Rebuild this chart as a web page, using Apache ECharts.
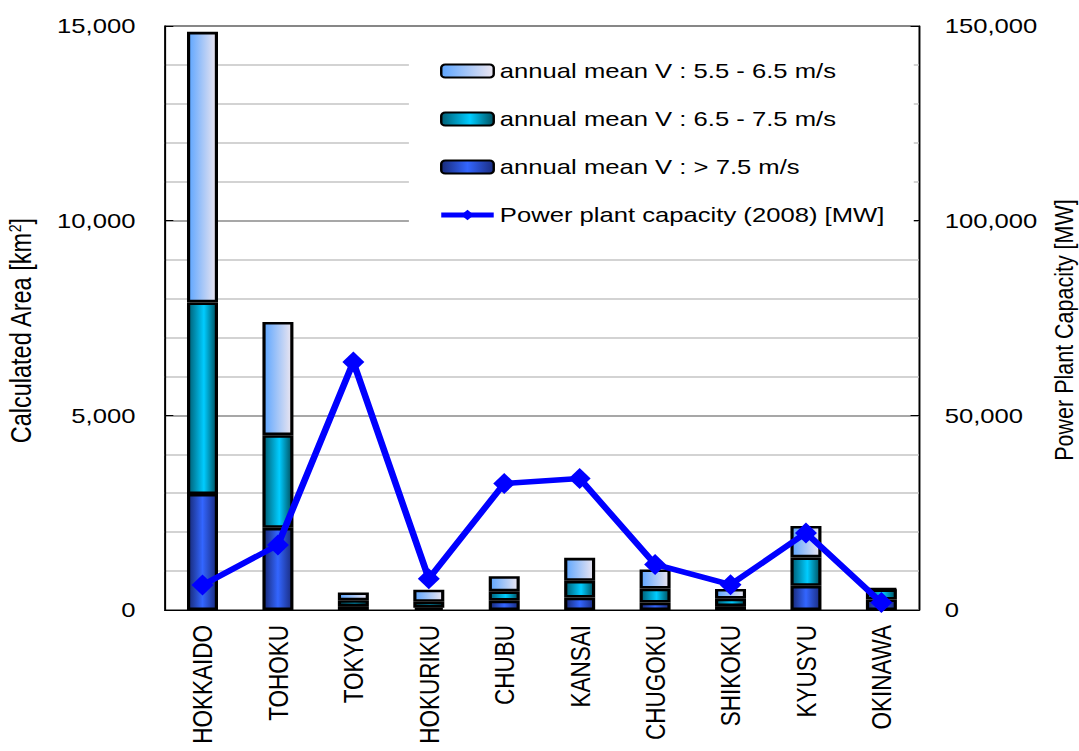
<!DOCTYPE html>
<html>
<head>
<meta charset="utf-8">
<script src="https://cdn.jsdelivr.net/npm/echarts@6/dist/echarts.min.js"></script>
<style>
  html, body { margin: 0; padding: 0; background: #fff; overflow: hidden; }
  /* the chart is laid out narrower and widened horizontally */
  #main { width: 884px; height: 751px; transform: scaleX(1.2206); transform-origin: 0 0; }
</style>
</head>
<body>
<div id="main"></div>
<script>
// Regions
const categories = ['HOKKAIDO', 'TOHOKU', 'TOKYO', 'HOKURIKU', 'CHUBU', 'KANSAI', 'CHUGOKU', 'SHIKOKU', 'KYUSYU', 'OKINAWA'];
// Calculated area [km2] per wind-speed class
const areaV55to65 = [6950, 2910, 200, 310, 390, 590, 490, 250, 810, 20];
const areaV65to75 = [4920, 2380, 150, 150, 240, 430, 360, 190, 730, 260];
const areaVover75 = [2980, 2110, 100, 60, 240, 320, 190, 100, 620, 270];
// Power plant capacity (2008) [MW]
const capacity2008 = [6400, 16700, 63700, 8000, 32500, 33800, 11700, 6500, 19800, 1900];

const seriesNames = [
  'annual mean V : 5.5 - 6.5 m/s',
  'annual mean V : 6.5 - 7.5 m/s',
  'annual mean V : > 7.5 m/s',
  'Power plant capacity (2008) [MW]'
];

const FONT = '"Liberation Sans", Arial, sans-serif';

function hGrad(stops) {
  return new echarts.graphic.LinearGradient(0, 0, 1, 0,
    stops.map(s => ({ offset: s[0], color: s[1] })));
}
const fillLight = hGrad([[0, '#5ea6ff'], [1, '#ece6f0']]);
const fillMid = hGrad([[0, '#005f75'], [0.55, '#00ccff'], [1, '#00505f']]);
const fillDark = hGrad([[0, '#182a78'], [0.5, '#3366ff'], [1, '#1a2c80']]);

const fmt = v => v.toLocaleString('en-US');

const barCommon = {
  type: 'bar',
  stack: 'area',
  barWidth: 25.4,
  yAxisIndex: 0
};

const chart = echarts.init(document.getElementById('main'), null, { renderer: 'svg' });
chart.setOption({
  animation: false,
  backgroundColor: '#fff',
  textStyle: { fontFamily: FONT, color: '#000' },
  grid: {
    left: 135, right: 131, top: 26, bottom: 141,
    outerBoundsMode: 'none',
    containLabel: false,
    show: true, borderColor: '#000', borderWidth: 1, backgroundColor: 'transparent'
  },
  legend: {
    orient: 'vertical',
    left: 335, top: 44,
    padding: [15, 24, 12, 24],
    backgroundColor: '#fff',
    itemWidth: 43, itemHeight: 13, itemGap: 24,
    lineStyle: { width: 5 },
    textStyle: { fontFamily: FONT, fontSize: 21, color: '#000', lineHeight: 24 },
    data: seriesNames
  },
  xAxis: {
    type: 'category',
    data: categories,
    axisLine: { lineStyle: { color: '#000', width: 1.2 } },
    axisTick: { inside: true, length: 7, lineStyle: { color: '#808080', width: 1 } },
    axisLabel: { rotate: 90, fontSize: 22.5, color: '#000', fontFamily: FONT, margin: 15 },
    splitLine: { show: false }
  },
  yAxis: [
    {
      type: 'value', min: 0, max: 15000, interval: 5000, position: 'left',
      name: 'Calculated Area [km{sup|2}]',
      nameLocation: 'middle', nameRotate: 90, nameGap: 106,
      nameTextStyle: {
        fontFamily: FONT, fontSize: 23.5, color: '#000', padding: [0, 26, 0, 0],
        rich: { sup: { fontFamily: FONT, fontSize: 14, verticalAlign: 'top', color: '#000' } }
      },
      axisLine: { show: true, lineStyle: { color: '#000', width: 1.2 } },
      axisTick: { show: true, inside: true, length: 7, lineStyle: { color: '#000' } },
      axisLabel: { formatter: fmt, fontSize: 21, color: '#000', fontFamily: FONT, margin: 24 },
      splitLine: { show: true, lineStyle: { color: '#8a8a8a', width: 1.5 } },
      minorTick: { show: false, splitNumber: 5 },
      minorSplitLine: { show: true, lineStyle: { color: '#c4c4c4', width: 1.5 } }
    },
    {
      type: 'value', min: 0, max: 150000, interval: 50000, position: 'right',
      name: 'Power Plant Capacity [MW]',
      nameLocation: 'middle', nameRotate: 90, nameGap: 104,
      nameTextStyle: { fontFamily: FONT, fontSize: 21.5, color: '#000', padding: [0, 24, 0, 0] },
      axisLine: { show: true, lineStyle: { color: '#000', width: 1.2 } },
      axisTick: { show: true, inside: true, length: 7, lineStyle: { color: '#000' } },
      axisLabel: { formatter: fmt, fontSize: 21, color: '#000', fontFamily: FONT, margin: 21 },
      splitLine: { show: false }
    }
  ],
  series: [
    Object.assign({}, barCommon, {
      name: seriesNames[2], data: areaVover75,
      itemStyle: { color: fillDark, borderColor: '#000', borderWidth: 2.6 }
    }),
    Object.assign({}, barCommon, {
      name: seriesNames[1], data: areaV65to75,
      itemStyle: { color: fillMid, borderColor: '#000', borderWidth: 2.6 }
    }),
    Object.assign({}, barCommon, {
      name: seriesNames[0], data: areaV55to65,
      itemStyle: { color: fillLight, borderColor: '#000', borderWidth: 2.6 }
    }),
    {
      type: 'line', name: seriesNames[3], data: capacity2008, yAxisIndex: 1,
      z: 5,
      symbol: 'diamond', symbolSize: [18, 21],
      lineStyle: { color: '#0000ff', width: 5.5 },
      itemStyle: { color: '#0000ff' }
    }
  ]
});
</script>
</body>
</html>
